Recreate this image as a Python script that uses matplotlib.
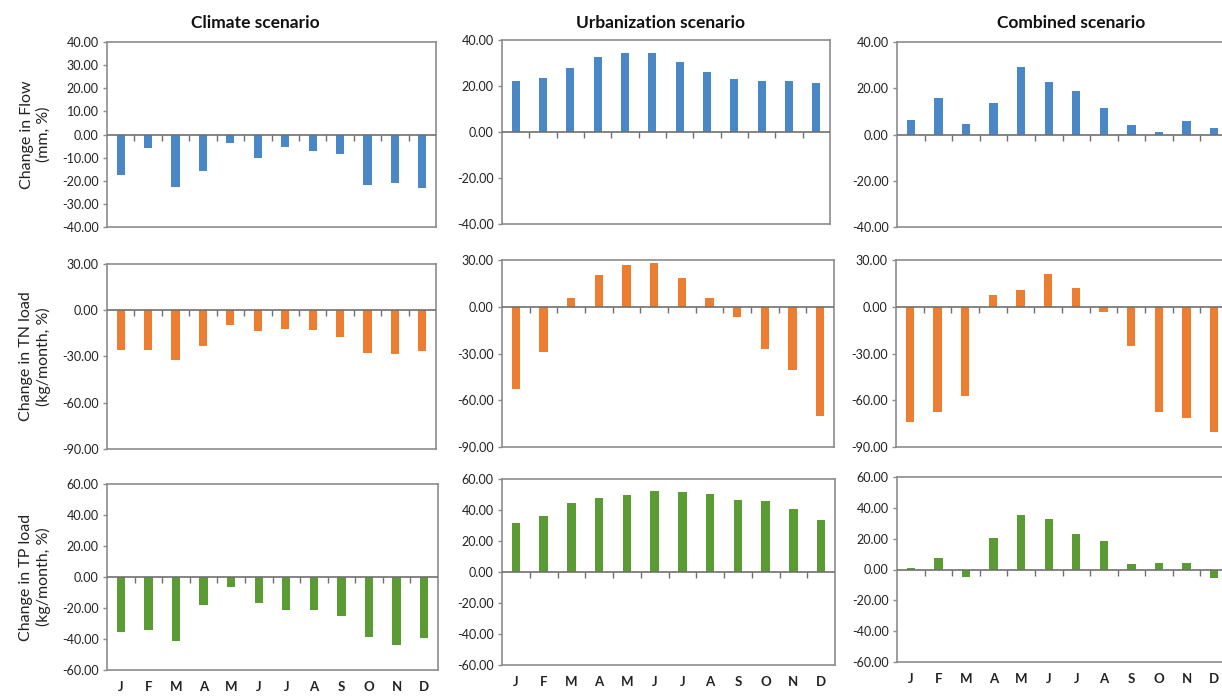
import numpy as np
import matplotlib
matplotlib.use('Agg')
import matplotlib.pyplot as plt

plt.rcParams['font.family'] = ['Lato', 'DejaVu Sans']

months = ['J', 'F', 'M', 'A', 'M', 'J', 'J', 'A', 'S', 'O', 'N', 'D']

# percent change per month
flow_climate = [-17.3, -6.0, -22.6, -15.8, -3.5, -10.2, -5.5, -7.1, -8.5, -21.8, -21.0, -23.0]
flow_urban = [22.1, 23.6, 27.9, 32.6, 34.5, 34.2, 30.4, 26.2, 23.1, 22.1, 22.1, 21.1]
flow_combined = [6.2, 15.6, 4.5, 13.6, 29.4, 22.6, 18.8, 11.6, 4.2, 1.2, 5.8, 2.7]

tn_climate = [-25.9, -25.9, -32.2, -22.9, -9.5, -13.4, -11.9, -13.0, -17.5, -27.5, -28.5, -26.6]
tn_urban = [-53.1, -28.9, 5.6, 20.4, 26.6, 28.3, 18.2, 5.6, -6.4, -27.4, -40.3, -70.3]
tn_combined = [-73.9, -67.7, -57.3, 7.5, 11.0, 21.3, 11.9, -3.4, -25.2, -67.7, -71.3, -80.6]

tp_climate = [-35.3, -34.5, -41.4, -18.1, -6.7, -16.8, -21.3, -21.3, -25.2, -38.6, -44.0, -39.5]
tp_urban = [31.5, 36.2, 44.8, 47.6, 49.6, 52.4, 51.9, 50.2, 46.6, 45.5, 40.5, 33.8]
tp_combined = [1.1, 7.4, -5.0, 20.4, 35.6, 32.5, 23.0, 18.2, 3.3, 3.9, 3.9, -5.4]

scenarios = ['Climate scenario', 'Urbanization scenario', 'Combined scenario']
row_labels = ['Change in Flow\n(mm, %)',
              'Change in TN load\n(kg/month, %)',
              'Change in TP load\n(kg/month, %)']

rows = [
    [flow_climate, flow_urban, flow_combined],
    [tn_climate, tn_urban, tn_combined],
    [tp_climate, tp_urban, tp_combined],
]
colors = ['#4a87c7', '#ed7d31', '#5b9b34']

# y-range and tick step for each panel
ylims = [
    [(-40, 40, 10), (-40, 40, 20), (-40, 40, 20)],
    [(-90, 30, 30), (-90, 30, 30), (-90, 30, 30)],
    [(-60, 60, 20), (-60, 60, 20), (-60, 60, 20)],
]

W, H = 1222, 696
fig = plt.figure(figsize=(W / 100, H / 100), dpi=100)

# panel boxes in pixels: left, top, right, bottom
boxes = [
    [(107, 42, 436, 227), (502, 40, 830, 224), (897, 42, 1228, 227)],
    [(107, 264, 436, 449), (502, 260, 834, 447), (896, 260, 1228, 447)],
    [(107, 484, 438, 670), (502, 479, 835, 665), (897, 477, 1228, 662)],
]

grey = '#8c8c8c'
x = np.arange(12)

for r in range(3):
    for c in range(3):
        l, t, rr, b = boxes[r][c]
        ax = fig.add_axes([l / W, 1 - b / H, (rr - l) / W, (b - t) / H])
        ax.bar(x, rows[r][c], width=0.3, color=colors[r], zorder=2)
        lo, hi, step = ylims[r][c]
        ax.set_ylim(lo, hi)
        ax.set_xlim(-0.5, 11.5)
        ax.set_yticks(np.arange(lo, hi + 0.1, step))
        ax.set_yticklabels(['%.2f' % v for v in np.arange(lo, hi + 0.1, step)])
        ax.axhline(0, color='#707070', lw=1.2, zorder=3)
        ax.plot(np.arange(0.5, 11.5, 1.0), np.zeros(11), ls='none',
                marker=3, markersize=4, color='#707070', mew=1.0, zorder=3)
        for s in ax.spines.values():
            s.set_color(grey)
            s.set_linewidth(1.2)
        ax.tick_params(axis='y', length=3, width=1, color=grey, labelsize=9,
                       pad=3, labelcolor='#222222')
        ax.set_xticks(x)
        if r == 2:
            ax.set_xticklabels(months, fontsize=9.5, fontweight='bold',
                               color='#222222')
            ax.tick_params(axis='x', length=0, pad=8)
        else:
            ax.set_xticklabels([])
            ax.tick_params(axis='x', length=0)
        if r == 0:
            pass
    # row label
    l, t, rr, b = boxes[r][0]
    fig.text(35 / W, 1 - (t + b) / 2 / H, row_labels[r], rotation=90,
             ha='center', va='center', multialignment='center',
             fontsize=11.5, color='#222222')

title_x = [255, 660, 1071]
for c in range(3):
    fig.text(title_x[c] / W, 1 - 23 / H, scenarios[c], ha='center',
             va='center', fontsize=12.5, fontweight='bold', color='#111111')

fig.savefig('out.png', dpi=100)
